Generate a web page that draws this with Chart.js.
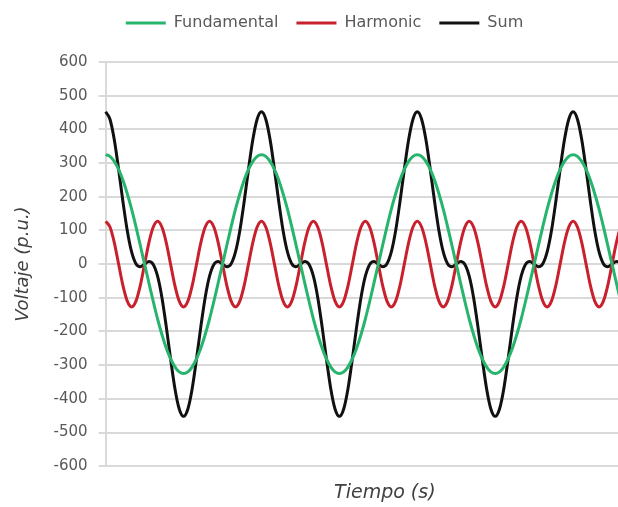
<!DOCTYPE html>
<html>
<head>
<meta charset="utf-8">
<script src="https://cdn.jsdelivr.net/npm/chart.js@4/dist/chart.umd.min.js"></script>
<style>
    html, body { margin: 0; padding: 0; background: #fff; overflow: hidden; }
    #contenedor { width: 664px; height: 507px; }
</style>
</head>
<body>
<div id="contenedor"><canvas id="migrafico"></canvas></div>
<script>
// angulo electrico en grados (eje de tiempo, sin etiquetas visibles)
const tiempo = [
    0, 10, 20, 30, 40, 50, 60, 70, 80, 90, 100, 110, 120, 130, 140, 150, 160, 170,
    180, 190, 200, 210, 220, 230, 240, 250, 260, 270, 280, 290, 300, 310, 320, 330, 340, 350,
    360, 370, 380, 390, 400, 410, 420, 430, 440, 450, 460, 470, 480, 490, 500, 510, 520, 530,
    540, 550, 560, 570, 580, 590, 600, 610, 620, 630, 640, 650, 660, 670, 680, 690, 700, 710,
    720, 730, 740, 750, 760, 770, 780, 790, 800, 810, 820, 830, 840, 850, 860, 870, 880, 890,
    900, 910, 920, 930, 940, 950, 960, 970, 980, 990, 1000, 1010, 1020, 1030, 1040, 1050, 1060, 1070,
    1080, 1090, 1100, 1110, 1120, 1130, 1140, 1150, 1160, 1170, 1180, 1190, 1200, 1210, 1220, 1230,
    1240, 1250, 1260, 1270, 1280, 1290
];

const fundamental = [
    325, 320, 305, 281, 249, 209, 163, 111, 56, 0, -56, -111, -163, -209, -249, -281, -305, -320,
    -325, -320, -305, -281, -249, -209, -163, -111, -56, 0, 56, 111, 163, 209, 249, 281, 305, 320,
    325, 320, 305, 281, 249, 209, 163, 111, 56, 0, -56, -111, -163, -209, -249, -281, -305, -320,
    -325, -320, -305, -281, -249, -209, -163, -111, -56, 0, 56, 111, 163, 209, 249, 281, 305, 320,
    325, 320, 305, 281, 249, 209, 163, 111, 56, 0, -56, -111, -163, -209, -249, -281, -305, -320,
    -325, -320, -305, -281, -249, -209, -163, -111, -56, 0, 56, 111, 163, 209, 249, 281, 305, 320,
    325, 320, 305, 281, 249, 209, 163, 111, 56, 0, -56, -111, -163, -209, -249, -281, -305, -320,
    -325, -320, -305, -281
];

const harmonic = [
    127, 110, 64, 0, -64, -110, -127, -110, -64, 0, 64, 110, 127, 110, 64, 0, -64, -110,
    -127, -110, -64, 0, 64, 110, 127, 110, 64, 0, -64, -110, -127, -110, -64, 0, 64, 110,
    127, 110, 64, 0, -64, -110, -127, -110, -64, 0, 64, 110, 127, 110, 64, 0, -64, -110,
    -127, -110, -64, 0, 64, 110, 127, 110, 64, 0, -64, -110, -127, -110, -64, 0, 64, 110,
    127, 110, 64, 0, -64, -110, -127, -110, -64, 0, 64, 110, 127, 110, 64, 0, -64, -110,
    -127, -110, -64, 0, 64, 110, 127, 110, 64, 0, -64, -110, -127, -110, -64, 0, 64, 110,
    127, 110, 64, 0, -64, -110, -127, -110, -64, 0, 64, 110, 127, 110, 64, 0, -64, -110,
    -127, -110, -64, 0
];

const suma = [
    452, 430, 369, 281, 185, 99, 36, 1, -8, 0, 8, -1, -36, -99, -185, -281, -369, -430,
    -452, -430, -369, -281, -185, -99, -36, -1, 8, 0, -8, 1, 36, 99, 185, 281, 369, 430,
    452, 430, 369, 281, 185, 99, 36, 1, -8, 0, 8, -1, -36, -99, -185, -281, -369, -430,
    -452, -430, -369, -281, -185, -99, -36, -1, 8, 0, -8, 1, 36, 99, 185, 281, 369, 430,
    452, 430, 369, 281, 185, 99, 36, 1, -8, 0, 8, -1, -36, -99, -185, -281, -369, -430,
    -452, -430, -369, -281, -185, -99, -36, -1, 8, 0, -8, 1, 36, 99, 185, 281, 369, 430,
    452, 430, 369, 281, 185, 99, 36, 1, -8, 0, 8, -1, -36, -99, -185, -281, -369, -430,
    -452, -430, -369, -281
];

const ticksVoltaje = [600, 500, 400, 300, 200, 100, 0, -100, -200, -300, -400, -500, -600];

const fuente = "'DejaVu Sans', sans-serif";

function serie(label, data, color) {
    return {
        label: label,
        data: data,
        borderColor: color,
        backgroundColor: color,
        borderWidth: 3,
        pointRadius: 0,
        pointStyle: 'line',
        cubicInterpolationMode: 'monotone'
    };
}

// leyenda: alto fijo y corrida arriba/izquierda, como en el original
const ajusteLeyenda = {
    id: 'ajusteLeyenda',
    beforeInit(chart) {
        const fitOriginal = chart.legend.fit;
        chart.legend.fit = function () {
            fitOriginal.call(this);
            this.height = 57;
        };
    },
    afterLayout(chart) {
        chart.legend.left -= 14;
        chart.legend.right -= 14;
        chart.legend.top -= 8;
        chart.legend.bottom -= 8;
    }
};

const ctx = document.getElementById("migrafico").getContext("2d");
const myChart = new Chart(ctx, {
    type: 'line',
    data: {
        labels: tiempo,
        datasets: [
            serie('Fundamental', fundamental, '#27b46c'),
            serie('Harmonic', harmonic, '#c8202c'),
            serie('Sum', suma, '#111111')
        ]
    },
    plugins: [ajusteLeyenda],
    options: {
        responsive: true,
        maintainAspectRatio: false,
        animation: false,
        layout: { padding: { top: 5, left: 13, right: 0, bottom: 3 } },
        plugins: {
            legend: {
                position: 'top',
                labels: {
                    usePointStyle: true,
                    pointStyleWidth: 40,
                    boxHeight: 3,
                    padding: 18,
                    color: '#595959',
                    font: { family: fuente, size: 16 }
                }
            },
            tooltip: { enabled: false }
        },
        scales: {
            x: {
                ticks: { display: false },
                grid: { display: false, drawTicks: false },
                border: { display: false },
                title: {
                    display: true,
                    text: 'Tiempo (s)',
                    color: '#404040',
                    font: { family: fuente, size: 19, style: 'italic' },
                    padding: { top: 15, bottom: 0 }
                }
            },
            y: {
                min: -600,
                max: 600,
                afterBuildTicks: (axis) => {
                    axis.ticks = ticksVoltaje.map(v => ({ value: v }));
                },
                ticks: {
                    color: '#595959',
                    padding: 11,
                    font: { family: fuente, size: 15 }
                },
                grid: {
                    color: '#d9d9d9',
                    lineWidth: 2,
                    tickLength: 7
                },
                border: { color: '#d9d9d9', width: 2 },
                title: {
                    display: true,
                    text: 'Voltaje (p.u.)',
                    color: '#404040',
                    font: { family: fuente, size: 18, style: 'italic' },
                    padding: { top: 0, bottom: 8 }
                }
            }
        }
    }
});
</script>
</body>
</html>
